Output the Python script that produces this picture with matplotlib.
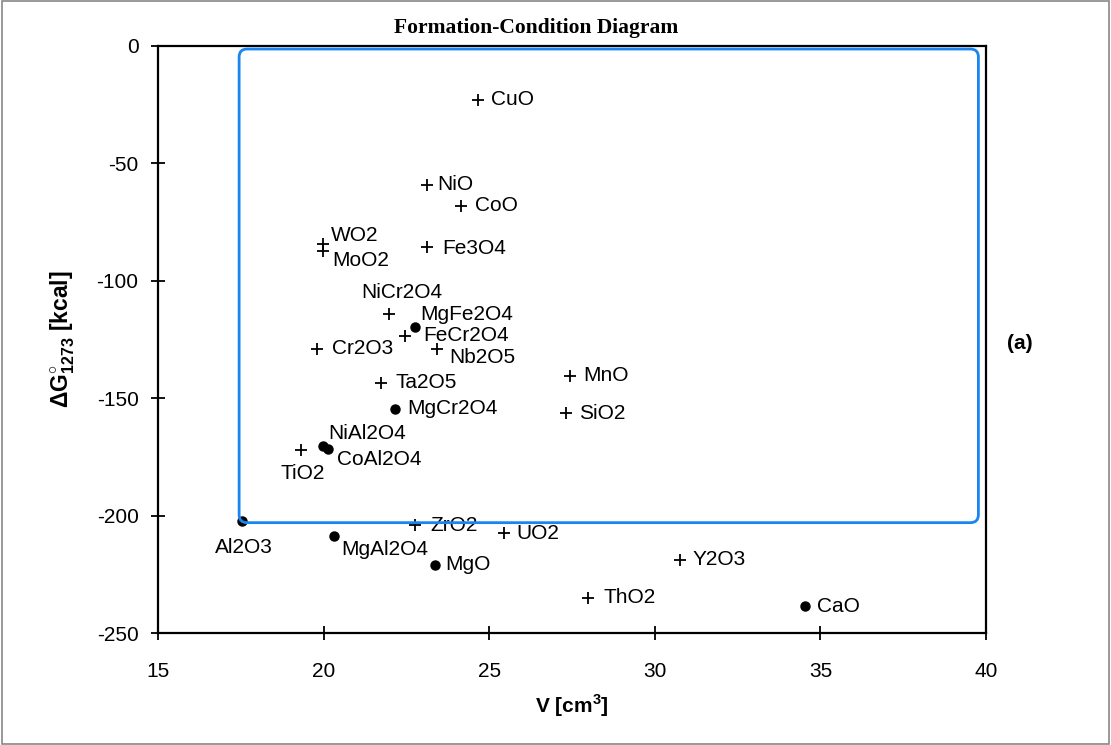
import matplotlib
matplotlib.use("Agg")
import matplotlib.pyplot as plt
from matplotlib.patches import FancyBboxPatch, Rectangle

plt.rcParams['font.family'] = ['Liberation Sans', 'DejaVu Sans']
plt.rcParams['mathtext.fontset'] = 'custom'
plt.rcParams['mathtext.rm'] = 'Liberation Sans:bold'
plt.rcParams['mathtext.bf'] = 'Liberation Sans:bold'
plt.rcParams['axes.unicode_minus'] = False

# compounds marked with "+"
plus_names = ['CuO', 'NiO', 'CoO', 'WO2', 'MoO2', 'Fe3O4', 'NiCr2O4', 'FeCr2O4',
              'Cr2O3', 'Nb2O5', 'Ta2O5', 'MnO', 'SiO2', 'TiO2', 'ZrO2', 'UO2',
              'Y2O3', 'ThO2']
plus_v = [24.67, 23.13, 24.15, 19.98, 19.98, 23.13, 21.98, 22.46,
          19.80, 23.43, 21.74, 27.45, 27.33, 19.32, 22.76, 25.45,
          30.77, 27.99]
plus_g = [-23.0, -59.1, -68.1, -84.3, -87.4, -85.5, -114.0, -123.4,
          -128.9, -129.0, -143.4, -140.4, -156.5, -171.9, -204.0, -207.5,
          -218.7, -234.9]

# compounds marked with a dot
dot_names = ['MgFe2O4', 'MgCr2O4', 'NiAl2O4', 'CoAl2O4', 'Al2O3', 'MgAl2O4',
             'MgO', 'CaO']
dot_v = [22.76, 22.16, 19.98, 20.14, 17.54, 20.32, 23.37, 34.52]
dot_g = [-119.6, -154.5, -170.2, -171.5, -202.3, -208.7, -220.9, -238.5]

# label offsets in points (dx, dy, ha)
offsets = {
    'CuO': (9, 0, 'left'), 'NiO': (7, 0, 'left'), 'CoO': (10, 0, 'left'),
    'WO2': (6, 6, 'left'), 'MoO2': (7, -7, 'left'), 'Fe3O4': (11, -1, 'left'),
    'NiCr2O4': (9, 15, 'center'), 'MgFe2O4': (4, 9, 'left'),
    'FeCr2O4': (13, 0, 'left'), 'Cr2O3': (11, 0, 'left'),
    'Nb2O5': (9, -6, 'left'), 'Ta2O5': (10, 0, 'left'),
    'MgCr2O4': (9, 0, 'left'), 'MnO': (9, 0, 'left'), 'SiO2': (9, 0, 'left'),
    'NiAl2O4': (4, 9, 'left'), 'CoAl2O4': (6, -8, 'left'),
    'TiO2': (1, -17, 'center'), 'Al2O3': (1, -19, 'center'),
    'MgAl2O4': (5, -10, 'left'), 'ZrO2': (11, 0, 'left'), 'UO2': (9, 0, 'left'),
    'MgO': (7, 0, 'left'), 'Y2O3': (9, 0, 'left'), 'ThO2': (11, 0, 'left'),
    'CaO': (9, 0, 'left'),
}

box_v = (17.45, 39.77)
box_g = (-203.0, -1.3)

fig = plt.figure(figsize=(11.11, 7.45), dpi=100)
ax = fig.add_axes([0.1422, 0.1503, 0.7453, 0.788])

ax.plot(plus_v, plus_g, '+', color='black', markersize=8, mew=1.3, linestyle='none')
ax.plot(dot_v, dot_g, 'o', color='black', markersize=6.5, linestyle='none')

for names, vs, gs in ((plus_names, plus_v, plus_g), (dot_names, dot_v, dot_g)):
    for n, v, g in zip(names, vs, gs):
        dx, dy, ha = offsets[n]
        ax.annotate(n, (v, g), xytext=(dx, dy), textcoords='offset points',
                    ha=ha, va='center', fontsize=15, color='black')

ax.set_xlim(15, 40)
ax.set_ylim(-250, 0)
ax.set_xticks([15, 20, 25, 30, 35, 40])
ax.set_yticks([0, -50, -100, -150, -200, -250])
ax.tick_params(direction='inout', length=10, width=1.3, labelsize=15, pad=9)
ax.tick_params(axis='x', pad=16, labelsize=15)
for s in ax.spines.values():
    s.set_linewidth(1.6)

ax.set_xlabel('V [cm$^3$]', fontsize=15, fontweight='bold', labelpad=8)
ax.set_ylabel(r'$\Delta$G$^{\circ}_{1273}$ [kcal]', fontsize=16.5, fontweight='bold', labelpad=14)

# blue highlight frame
rw = 0.24
box = FancyBboxPatch((box_v[0], box_g[0]), box_v[1] - box_v[0], box_g[1] - box_g[0],
                     boxstyle=f'round,pad=0,rounding_size={rw}',
                     mutation_aspect=14.1, fill=False, edgecolor='#1a85f0',
                     linewidth=2.0, zorder=5, clip_on=False)
ax.add_patch(box)

fig.text(0.483, 0.963, 'Formation-Condition Diagram', ha='center', va='center',
         fontsize=15.5, fontweight='bold', family='Liberation Serif')
fig.text(0.918, 0.539, '(a)', ha='center', va='center', fontsize=15, fontweight='bold')

fig.patches.append(Rectangle((0.002, 0.002), 0.996, 0.996, transform=fig.transFigure,
                             fill=False, edgecolor='#888888', linewidth=1.2))

fig.savefig('out.png', dpi=100, facecolor='white')
